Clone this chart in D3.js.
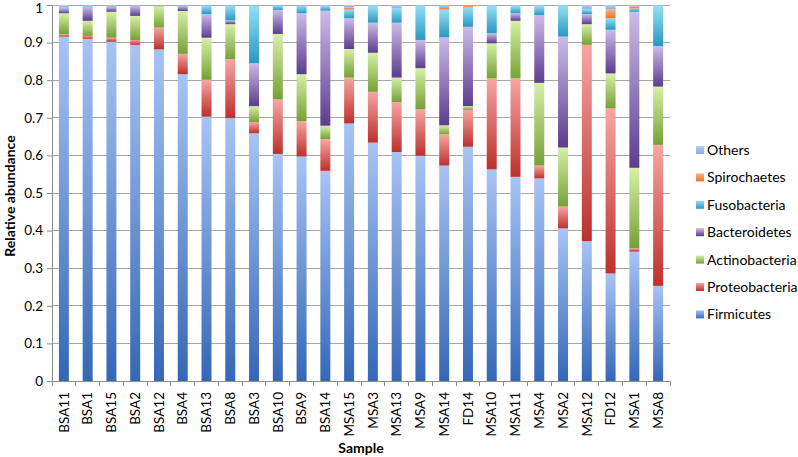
<!DOCTYPE html>
<html><head><meta charset="utf-8">
<script src="https://cdn.jsdelivr.net/npm/d3@7"></script>
<style>body{margin:0;background:#fff}svg{display:block}</style>
</head><body><svg id="c" width="798" height="457"></svg>
<script>
const samples = ["BSA11","BSA1","BSA15","BSA2","BSA12","BSA4","BSA13","BSA8","BSA3","BSA10","BSA9","BSA14","MSA15","MSA3","MSA13","MSA9","MSA14","FD14","MSA10","MSA11","MSA4","MSA2","MSA12","FD12","MSA1","MSA8"];
const firmicutes     = [0.916,0.910,0.902,0.894,0.882,0.816,0.703,0.699,0.659,0.604,0.597,0.559,0.685,0.634,0.609,0.599,0.573,0.623,0.563,0.543,0.539,0.406,0.372,0.286,0.344,0.253];
const proteobacteria = [0.006,0.008,0.011,0.013,0.058,0.054,0.098,0.157,0.029,0.145,0.094,0.084,0.122,0.135,0.133,0.124,0.083,0.098,0.242,0.262,0.034,0.058,0.522,0.439,0.009,0.375];
const actinobacteria = [0.056,0.040,0.069,0.064,0.057,0.114,0.112,0.093,0.043,0.174,0.125,0.036,0.076,0.104,0.065,0.109,0.024,0.010,0.093,0.153,0.220,0.157,0.055,0.093,0.214,0.155];
const bacteroidetes  = [0.013,0.037,0.013,0.026,0.001,0.013,0.063,0.010,0.114,0.064,0.162,0.306,0.082,0.080,0.146,0.075,0.234,0.211,0.027,0.020,0.180,0.295,0.027,0.116,0.415,0.108];
const fusobacteria   = [0.002,0.002,0.002,0.001,0.001,0.001,0.022,0.039,0.153,0.011,0.020,0.012,0.023,0.044,0.040,0.090,0.074,0.052,0.072,0.019,0.024,0.081,0.012,0.031,0.009,0.106];
const spirochaetes   = [0,0,0,0,0,0,0,0,0,0,0,0,0.006,0,0.002,0,0.007,0.004,0,0,0,0,0,0.023,0.006,0];
const others         = [0.007,0.003,0.003,0.002,0.001,0.002,0.002,0.002,0.002,0.002,0.002,0.003,0.006,0.003,0.005,0.003,0.005,0.002,0.003,0.003,0.003,0.003,0.012,0.012,0.003,0.003];
const seriesNames = ["Firmicutes","Proteobacteria","Actinobacteria","Bacteroidetes","Fusobacteria","Spirochaetes","Others"];
const yTicks = [0,0.1,0.2,0.3,0.4,0.5,0.6,0.7,0.8,0.9,1];

const seriesValues = [firmicutes,proteobacteria,actinobacteria,bacteroidetes,fusobacteria,spirochaetes,others];
const colors = {
  Firmicutes:["#3567b6","#a8c4f4"],
  Proteobacteria:["#bc302c","#f6a6a3"],
  Actinobacteria:["#76a036","#d6f0a8"],
  Bacteroidetes:["#5c3c8e","#cbbce8"],
  Fusobacteria:["#2898c0","#94def6"],
  Spirochaetes:["#e8702a","#f9b386"],
  Others:["#8aa8e0","#bccff2"]
};
const rows = samples.map((s,i)=>{const o={sample:s}; seriesNames.forEach((n,k)=>o[n]=seriesValues[k][i]); return o;});
const stacked = d3.stack().keys(seriesNames)(rows);

const svg = d3.select("#c");
const font = "Lato, 'Open Sans', 'Liberation Sans', sans-serif";
const x = d3.scaleBand().domain(samples).range([52,670]).paddingInner(0.58).paddingOuter(0.29);
const y = d3.scaleLinear().domain([0,1]).range([381,5]);

const defs = svg.append("defs");
seriesNames.forEach((n,i)=>{
  const g = defs.append("linearGradient").attr("id","g"+i).attr("x1",0).attr("y1",1).attr("x2",0).attr("y2",0);
  g.append("stop").attr("offset","0%").attr("stop-color",colors[n][0]);
  g.append("stop").attr("offset","100%").attr("stop-color",colors[n][1]);
});

// gridlines
svg.append("g").selectAll("line").data(yTicks.filter(t=>t>0)).join("line")
  .attr("x1",52).attr("x2",670).attr("y1",d=>y(d)).attr("y2",d=>y(d))
  .attr("stroke","#a6a6a6").attr("stroke-width",1).attr("shape-rendering","crispEdges");

// bars
svg.append("g").selectAll("g").data(stacked).join("g")
  .attr("fill",(d,i)=>`url(#g${i})`)
  .selectAll("rect").data(d=>d.filter(p=>p[1]-p[0]>0)).join("rect")
  .attr("x",d=>x(d.data.sample)).attr("width",x.bandwidth())
  .attr("y",d=>y(d[1])).attr("height",d=>y(d[0])-y(d[1]));

// y axis
const yAxis = svg.append("g").attr("transform","translate(52,0)")
  .call(d3.axisLeft(y).tickValues(yTicks).tickFormat(d3.format("~g")).tickSize(5).tickPadding(4));
yAxis.select(".domain").attr("stroke","#8c8c8c");
yAxis.selectAll(".tick line").attr("stroke","#8c8c8c");
yAxis.selectAll("text").attr("font-family",font).attr("font-size",13.5).attr("fill","#000")
  .attr("dy",d=>d===1?"0.55em":"0.32em");

// x axis
const xAxis = svg.append("g").attr("transform","translate(0,381)")
  .call(d3.axisBottom(x).tickSize(0).tickPadding(0));
xAxis.select(".domain").attr("stroke","#8c8c8c");
xAxis.selectAll(".tick line").remove();
const step = x.step();
svg.append("g").selectAll("line").data(d3.range(samples.length+1)).join("line")
  .attr("x1",i=>52+i*step).attr("x2",i=>52+i*step).attr("y1",381).attr("y2",386)
  .attr("stroke","#8c8c8c").attr("shape-rendering","crispEdges");
xAxis.selectAll("text").attr("font-family",font).attr("font-size",13.5).attr("fill","#000")
  .attr("text-anchor","end").attr("dy","0.35em")
  .attr("transform","translate(0,11) rotate(-90)");

// titles
svg.append("text").attr("x",361).attr("y",453).attr("text-anchor","middle")
  .attr("font-family",font).attr("font-size",14).attr("font-weight","bold").text("Sample");
svg.append("text").attr("transform","translate(15,196) rotate(-90)").attr("text-anchor","middle")
  .attr("font-family",font).attr("font-size",14).attr("font-weight","bold").text("Relative abundance");

// legend
const legendOrder = seriesNames.slice().reverse();
const lg = svg.append("g").selectAll("g").data(legendOrder).join("g")
  .attr("transform",(d,i)=>`translate(696,${150+i*27.4})`);
lg.append("rect").attr("x",0).attr("y",-4).attr("width",8).attr("height",8)
  .attr("fill",d=>`url(#g${seriesNames.indexOf(d)})`);
lg.append("text").attr("x",11).attr("y",0).attr("dy","0.35em")
  .attr("font-family",font).attr("font-size",14).attr("fill","#000").text(d=>d);
</script></body></html>
